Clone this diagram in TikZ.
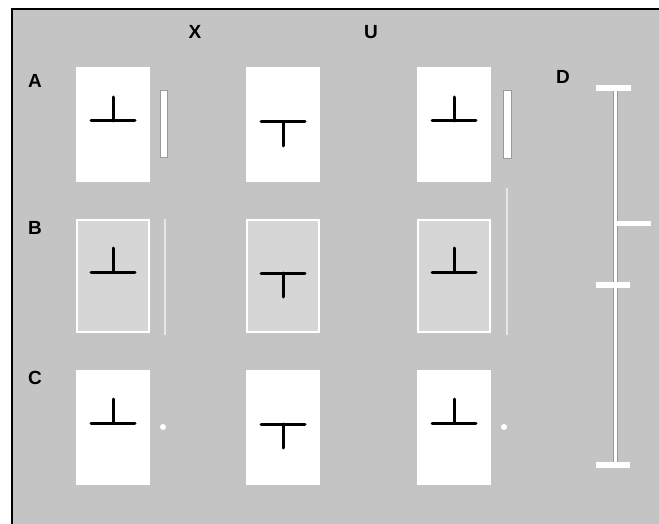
\documentclass[tikz,border=0pt]{standalone}
\usepackage{fontspec}
\setmainfont{Liberation Sans}
\definecolor{plate}{HTML}{C4C4C4}
\definecolor{dimcard}{HTML}{D6D6D6}
\definecolor{faintline}{HTML}{E6E6E6}
\begin{document}
\begin{tikzpicture}[x=1pt,y=-1pt,
  card/.style={fill=white,inner sep=0pt,minimum width=74pt,minimum height=115pt},
  dcard/.style={fill=dimcard,draw=white,line width=1.6pt,inner sep=0pt,
    minimum width=72pt,minimum height=112pt},
  stem/.style={line width=3pt,line cap=round,black},
  lab/.style={font=\fontsize{19}{19}\selectfont\bfseries,inner sep=0pt},
  slot/.style={fill=white,draw=black!40,line width=0.4pt},
  faint/.style={draw=faintline,line width=1.8pt}]
\useasboundingbox (0,0) rectangle (659,524);
\fill[white] (0,0) rectangle (659,524);
\fill[plate] (12,9) rectangle (659,524);
\draw[line width=2pt] (12,524) -- (12,9) -- (659,9);
% letters
\node[lab] (colX) at (195,32) {X};
\node[lab] (colU) at (371,32) {U};
\node[lab] (rowA) at (35,81) {A};
\node[lab] (rowB) at (35,228) {B};
\node[lab] (rowC) at (35,378) {C};
\node[lab] (rowD) at (563,77) {D};
% faint guides in row B
\draw[faint] (165,219) -- (165,335);
\draw[faint] (507,188) -- (507,335);
% cards with the T figures
\foreach \r/\cy/\sty in {A/125/card,B/276/dcard,C/427/card}{
  \node[\sty] (\r1) at (113,\cy) {};
  \node[\sty] (\r2) at (283,\cy) {};
  \node[\sty] (\r3) at (454,\cy) {};
  \draw[stem] (91,\cy-4) -- (135,\cy-4) (113,\cy-4) -- (113,\cy-28);
  \draw[stem] (261,\cy-3) -- (305,\cy-3) (283,\cy-3) -- (283,\cy+21);
  \draw[stem] (432,\cy-4) -- (476,\cy-4) (454,\cy-4) -- (454,\cy-28);
}
% slots and dots
\fill[slot] (160,90) rectangle (167,157);
\fill[slot] (503,90) rectangle (511,158);
\fill[white] (163,427) circle (3);
\fill[white] (504,427) circle (3);
% scale bar D
\fill[slot] (613,88) rectangle (617,465);
\fill[white] (596,85) rectangle (631,91);
\fill[white] (617,221) rectangle (651,226);
\fill[white] (596,282) rectangle (630,288);
\fill[white] (596,462) rectangle (630,468);
\end{tikzpicture}
\end{document}
